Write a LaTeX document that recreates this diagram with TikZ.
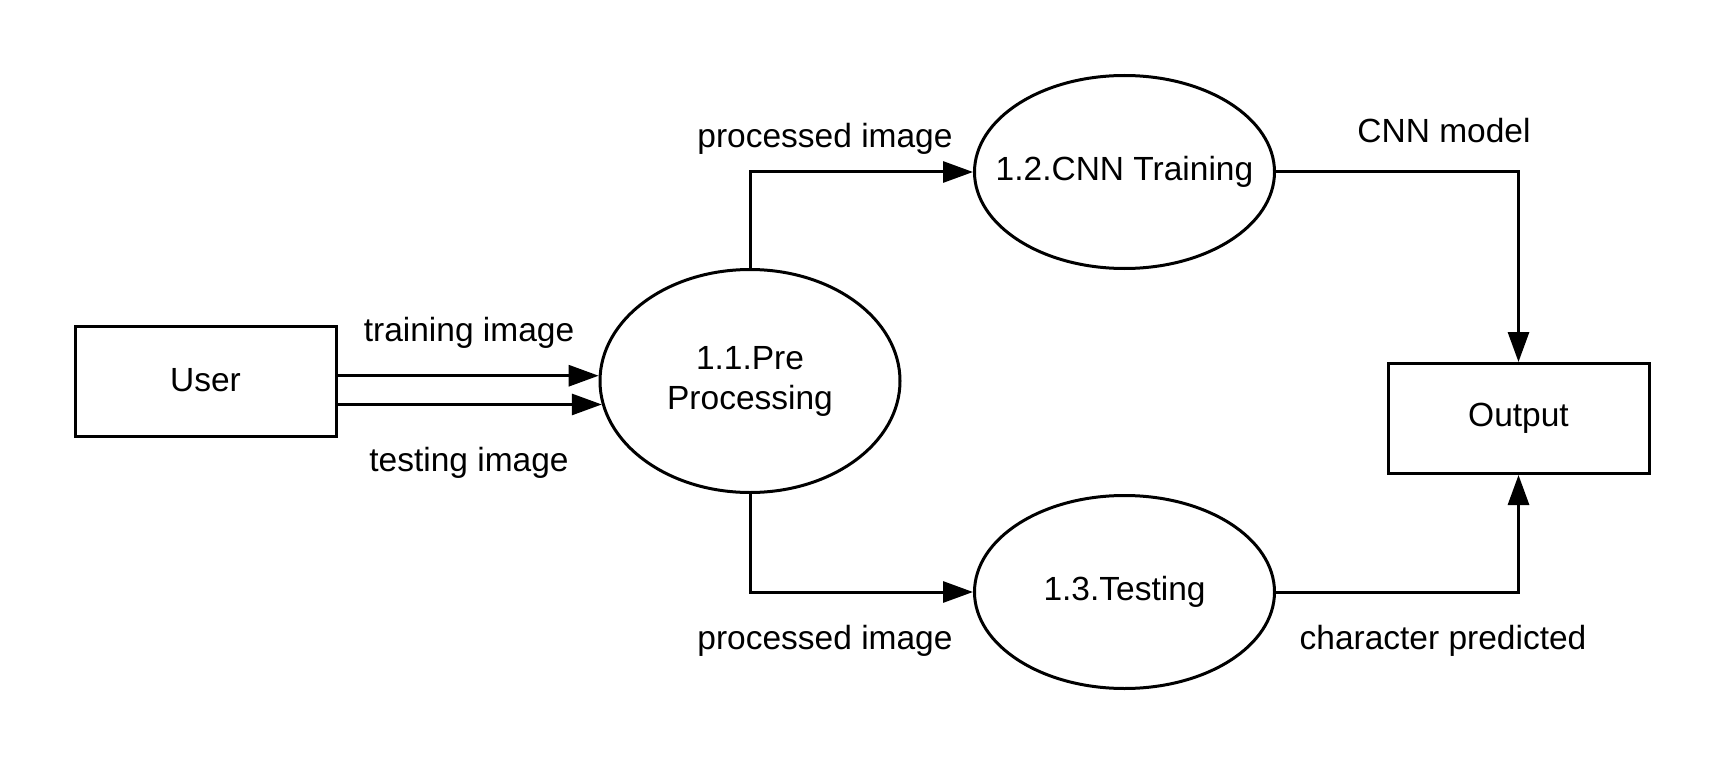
\documentclass[tikz,border=0pt]{standalone}
\usepackage{fontspec}
\setmainfont{Liberation Sans}
\usetikzlibrary{shapes.geometric,arrows.meta}
\begin{document}
\begin{tikzpicture}[x=1pt,y=-1pt,
  every node/.style={font=\fontsize{33.5}{40}\selectfont},
  boxnode/.style={draw,line width=3pt,rectangle,minimum width=261pt,minimum height=110pt,inner sep=0pt},
  procnode/.style={draw,line width=3pt,ellipse,minimum width=300pt,minimum height=193pt,inner sep=0pt,align=center},
  lbl/.style={inner sep=0pt,anchor=center},
  flow/.style={line width=3pt,-{Triangle[length=30pt,width=21pt]}}]
\useasboundingbox (0,0) rectangle (1725,765);
\node[boxnode] (U) at (205.5,381.5) {\raisebox{3pt}{User}};
\node[procnode,minimum height=223pt] (P) at (750,381) {\makebox[0pt]{1.1.Pre}\\\makebox[0pt]{Processing}};
\node[procnode] (C) at (1124.5,172) {\makebox[0pt]{1.2.CNN Training}};
\node[procnode] (T) at (1124.5,592) {\makebox[0pt]{\raisebox{1.5pt}{1.3.Testing}}};
\node[boxnode] (O) at (1518.5,418.5) {Output};
\draw[flow] (U.east |- P.178.5) -- (P.178.5);
\draw[flow] (U.east |- P.189.2) -- (P.189.2);
\draw[flow] (P.north) |- (C.west);
\draw[flow] (P.south) |- (T.west);
\draw[flow] (C.east) -| (O.north);
\draw[flow] (T.east) -| (O.south);
\node[lbl] (l1) at (469,333) {training image};
\node[lbl] (l2) at (469,463) {testing image};
\node[lbl] (l3) at (825,139) {processed image};
\node[lbl] (l4) at (825,641) {processed image};
\node[lbl] (l5) at (1444,131) {CNN model};
\node[lbl] (l6) at (1443,641) {character predicted};
\end{tikzpicture}
\end{document}
